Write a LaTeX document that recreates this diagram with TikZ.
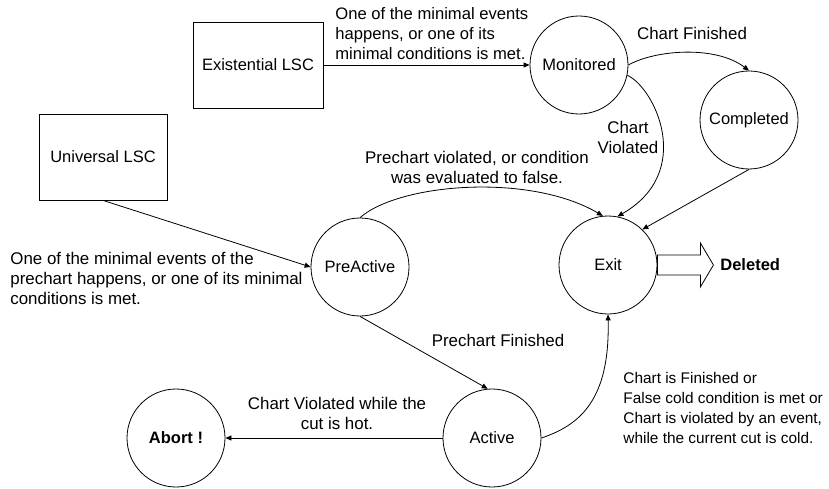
\documentclass[tikz,border=0pt]{standalone}
\usepackage{fontspec}
\setmainfont{Liberation Sans}
\usetikzlibrary{arrows.meta,calc}
\begin{document}
\begin{tikzpicture}[x=1pt,y=-1pt,
  line width=0.8pt,
  every node/.style={font=\fontsize{16.5}{20}\selectfont},
  state/.style={draw, circle, minimum size=98pt, inner sep=0pt},
  chart/.style={draw, rectangle, inner sep=0pt},
  lbl/.style={inner sep=0pt, font=\fontsize{16.9}{20}\selectfont},
  smalllbl/.style={inner sep=0pt, font=\fontsize{15.4}{20}\selectfont},
  boldlbl/.style={inner sep=0pt, font=\fontsize{16.5}{20}\selectfont\bfseries},
  arr/.style={-{Triangle[length=6pt,width=5pt]}}]
\useasboundingbox (0,0) rectangle (829,489);

% chart kinds
\node[chart, minimum width=130pt, minimum height=86pt] (ex) at (258,65) {Existential LSC};
\node[chart, minimum width=128pt, minimum height=86pt] (un) at (103,157) {Universal LSC};

% states
\node[state] (mon)   at (579,65)  {Monitored};
\node[state] (comp)  at (749,120) {Completed};
\node[state] (exit)  at (608,265) {Exit};
\node[state] (pa)    at (360,267) {PreActive};
\node[state] (act)   at (492,438) {Active};
\node[state, font=\fontsize{16.5}{20}\selectfont\bfseries] (abort) at (176,438) {Abort !};

% transitions
\draw[arr] (ex.east) -- (mon.west);
\draw[arr] (un.south) -- (pa.west);
\draw[arr] (mon.east) .. controls (655,50) and (715,45) .. (comp.north);
\draw[arr] (mon.-12) .. controls (655,88) and (695,172) .. (exit.79);
\draw[arr] (comp.south) -- (exit.46);
\draw[arr] (pa.north) .. controls (400,183) and (530,173) .. (exit.96);
\draw[arr] (pa.south) -- (act.95);
\draw[arr] (act.west) -- (abort.east);
\draw[arr] (act.east) .. controls (580,425) and (610,400) .. (exit.south);

% block arrow leaving Exit
\draw (exit.east) ++(0,-10) -- ++(43,0) -- ++(0,-12) -- ++(13,22)
  -- ++(-13,22) -- ++(0,-12) -- ++(-43,0) -- cycle;
\node[boldlbl, anchor=west] (del) at (720,265) {Deleted};

% transition labels
\node[lbl, anchor=west, align=left, font=\fontsize{16.6}{20}\selectfont] (l1) at (335,34)
  {One of the minimal events\\happens, or one of its\\minimal conditions is met.};
\node[lbl] (l2) at (692,33) {Chart Finished};
\node[lbl, align=center] (l3) at (628,137) {Chart\\Violated};
\node[lbl, align=center] (l4) at (477,167)
  {Prechart violated, or condition\\was evaluated to false.};
\node[lbl, anchor=west, align=left] (l5) at (10,278)
  {One of the minimal events of the\\prechart happens, or one of its minimal\\conditions is met.};
\node[lbl] (l6) at (498,340) {Prechart Finished};
\node[lbl, align=center] (l7) at (337,413) {Chart Violated while the\\cut is hot.};
\node[smalllbl, anchor=west, align=left] (l8) at (623,408)
  {Chart is Finished or\\False cold condition is met or\\Chart is violated by an event,\\while the current cut is cold.};
\end{tikzpicture}
\end{document}
